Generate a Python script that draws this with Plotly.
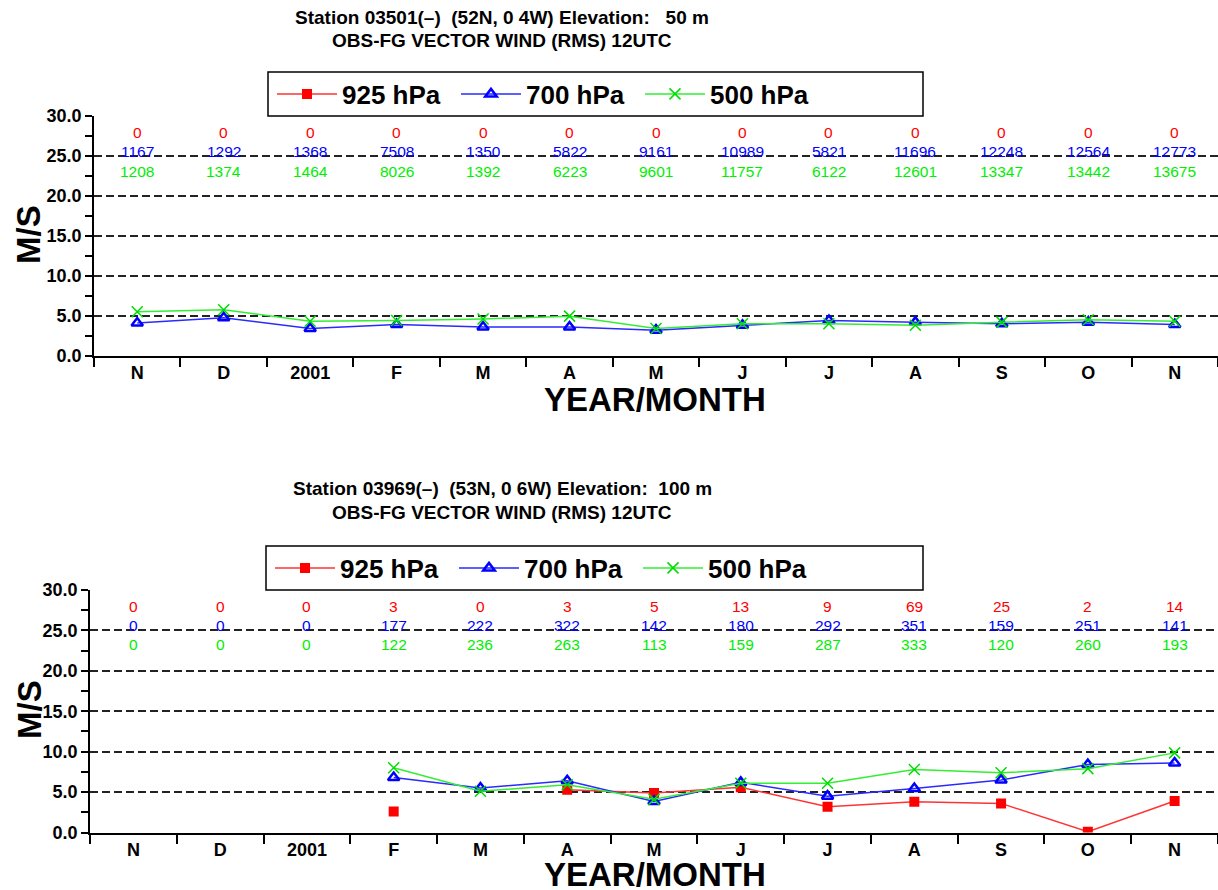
import plotly.graph_objects as go

months = ["N", "D", "2001", "F", "M", "A", "M", "J", "J", "A", "S", "O", "N"]
levels = ["925 hPa", "700 hPa", "500 hPa"]

# Station 03501
top_title = ["Station 03501(\u2013)\u00a0\u00a0(52N, 0 4W) Elevation:\u00a0\u00a0\u00a050 m",
             "OBS-FG VECTOR WIND (RMS) 12UTC"]
top_925 = [None] * 13
top_700 = [4.1, 4.75, 3.4, 3.9, 3.6, 3.6, 3.2, 3.8, 4.4, 4.2, 4.0, 4.2, 3.9]
top_500 = [5.5, 5.75, 4.3, 4.4, 4.6, 4.95, 3.4, 4.0, 4.0, 3.8, 4.2, 4.5, 4.3]
top_n925 = [0, 0, 0, 0, 0, 0, 0, 0, 0, 0, 0, 0, 0]
top_n700 = [1167, 1292, 1368, 7508, 1350, 5822, 9161, 10989, 5821, 11696, 12248, 12564, 12773]
top_n500 = [1208, 1374, 1464, 8026, 1392, 6223, 9601, 11757, 6122, 12601, 13347, 13442, 13675]

# Station 03969
bot_title = ["Station 03969(\u2013)\u00a0\u00a0(53N, 0 6W) Elevation:\u00a0\u00a0100 m",
             "OBS-FG VECTOR WIND (RMS) 12UTC"]
bot_925 = [None, None, None, 2.6, None, 5.3, 4.9, 5.6, 3.2, 3.8, 3.6, 0.1, 3.9]
bot_700 = [None, None, None, 6.8, 5.5, 6.4, 3.85, 6.2, 4.5, 5.45, 6.5, 8.4, 8.6]
bot_500 = [None, None, None, 8.0, 5.1, 5.9, 4.1, 6.1, 6.1, 7.8, 7.4, 7.9, 9.85]
bot_n925 = [0, 0, 0, 3, 0, 3, 5, 13, 9, 69, 25, 2, 14]
bot_n700 = [0, 0, 0, 177, 222, 322, 142, 180, 292, 351, 159, 251, 141]
bot_n500 = [0, 0, 0, 122, 236, 263, 113, 159, 287, 333, 120, 260, 193]

W, H = 1218, 890
FONT = "Liberation Sans, Arial, Helvetica, sans-serif"
colors = ["#ff0000", "#0000ff", "#00ee00"]
line_colors = ["#ff3333", "#2a2aff", "#33ee33"]
markers = [dict(symbol="square", size=10, color="#ff0000"),
           dict(symbol="triangle-up-open", size=10, color="#0000ff", line=dict(width=2.5, color="#0000ff")),
           dict(symbol="x-thin-open", size=11, color="#00dd00", line=dict(width=1.5, color="#00dd00"))]

xs = list(range(len(months)))

def py(p):
    return 1 - p / H

fig = go.Figure()

panels = [
    dict(series=[top_925, top_700, top_500], counts=[top_n925, top_n700, top_n500],
         title=top_title, xa="x", ya="y", legend="legend",
         xdom=[94 / W, 1.0], ydom=[py(355.7), py(116)],
         title_y=[17, 40], box=[268, 923, 72, 116], ms_y=235, ym_y=399,
         count_y=[27.9, 25.5, 23.1]),
    dict(series=[bot_925, bot_700, bot_500], counts=[bot_n925, bot_n700, bot_n500],
         title=bot_title, xa="x2", ya="y2", legend="legend2",
         xdom=[90 / W, 1.0], ydom=[py(832.5), py(590)],
         title_y=[488, 512], box=[266, 923, 546, 590], ms_y=710, ym_y=874,
         count_y=[27.9, 25.6, 23.3]),
]

annotations = []
shapes = []
for p in panels:
    for i in range(3):
        fig.add_trace(go.Scatter(
            x=xs, y=p["series"][i], name=levels[i], mode="lines+markers",
            line=dict(color=line_colors[i], width=1.5), marker=markers[i],
            xaxis=p["xa"], yaxis=p["ya"], legend=p["legend"], connectgaps=False,
            showlegend=True))
        for j, c in enumerate(p["counts"][i]):
            annotations.append(dict(x=xs[j], y=p["count_y"][i], xref=p["xa"], yref=p["ya"],
                                    text=str(c), showarrow=False,
                                    font=dict(family=FONT, size=15.5, color=colors[i])))
    for k, t in enumerate(p["title"]):
        annotations.append(dict(x=502 / W, y=py(p["title_y"][k]), xref="paper", yref="paper",
                                text=t, showarrow=False, xanchor="center", yanchor="middle",
                                font=dict(family=FONT, size=19, color="black", weight="bold")))
    annotations.append(dict(x=29 / W, y=py(p["ms_y"]), xref="paper", yref="paper", text="M/S",
                            textangle=-90, showarrow=False, xanchor="center", yanchor="middle",
                            font=dict(family=FONT, size=33, color="black", weight="bold")))
    annotations.append(dict(x=655 / W, y=py(p["ym_y"]), xref="paper", yref="paper", text="YEAR/MONTH",
                            showarrow=False, xanchor="center", yanchor="middle",
                            font=dict(family=FONT, size=33, color="black", weight="bold")))
    b = p["box"]
    shapes.append(dict(type="rect", xref="paper", yref="paper", x0=b[0] / W, x1=b[1] / W,
                       y0=py(b[3]), y1=py(b[2]), line=dict(color="black", width=1.5),
                       fillcolor="white", layer="above"))

def xaxis_cfg(dom, anchor):
    return dict(domain=dom, range=[-0.5, 12.5], tickvals=xs, ticktext=months, ticks="",
                showgrid=False, zeroline=False, showline=True, linecolor="black", linewidth=2,
                tickfont=dict(family=FONT, size=18, color="black", weight="bold"),
                minor=dict(tickvals=[v - 0.5 for v in range(14)], ticks="outside", ticklen=9,
                           tickwidth=1.5, tickcolor="black", showgrid=False),
                anchor=anchor, automargin=False, fixedrange=True)

def yaxis_cfg(dom, anchor):
    return dict(domain=dom, range=[0, 30], tickvals=[0, 5, 10, 15, 20, 25, 30],
                ticktext=["0.0", "5.0", "10.0", "15.0", "20.0", "25.0", "30.0"],
                ticks="outside", ticklen=7, tickwidth=1.5, tickcolor="black",
                showgrid=True, gridcolor="#222222", gridwidth=1.5, griddash="8px,4px",
                zeroline=False, showline=True, linecolor="black", linewidth=1.5,
                tickfont=dict(family=FONT, size=18, color="black", weight="bold"),
                minor=dict(tickvals=[2.5, 7.5, 12.5, 17.5, 22.5, 27.5], ticks="outside",
                           ticklen=7, tickwidth=1.5, tickcolor="black", showgrid=False),
                anchor=anchor, automargin=False, fixedrange=True)

legend_common = dict(orientation="h", xanchor="left", yanchor="middle",
                     bgcolor="rgba(0,0,0,0)", borderwidth=0, itemwidth=60,
                     entrywidth=109, entrywidthmode="pixels",
                     font=dict(family=FONT, size=26, color="black", weight="bold"),
                     itemclick=False, itemdoubleclick=False)

fig.update_layout(
    width=W, height=H, margin=dict(l=0, r=0, t=0, b=0, autoexpand=False),
    paper_bgcolor="white", plot_bgcolor="white",
    font=dict(family=FONT, color="black"),
    xaxis=xaxis_cfg(panels[0]["xdom"], "y"), yaxis=yaxis_cfg(panels[0]["ydom"], "x"),
    xaxis2=xaxis_cfg(panels[1]["xdom"], "y2"), yaxis2=yaxis_cfg(panels[1]["ydom"], "x2"),
    legend=dict(x=272 / W, y=py(94), **legend_common),
    legend2=dict(x=270 / W, y=py(568), **legend_common),
    annotations=annotations, shapes=shapes, showlegend=True,
)

fig.write_html("out.html")
